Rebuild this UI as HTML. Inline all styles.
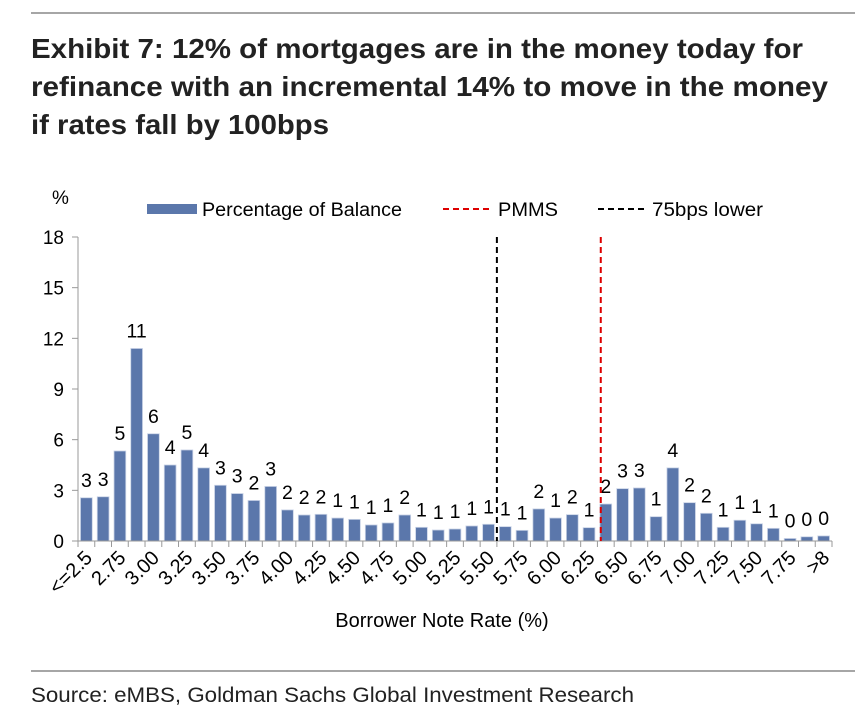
<!DOCTYPE html>
<html><head><meta charset="utf-8"><style>
body{margin:0;background:#fff;}
svg{display:block;font-family:"Liberation Sans",Arial,sans-serif;}
</style></head><body>
<svg id="chart" width="868" height="726">
<line x1="31" y1="13" x2="855" y2="13" stroke="#888" stroke-width="1.5"/>
<g font-weight="bold" font-size="28" fill="#222">
<text x="31" y="58" textLength="772" lengthAdjust="spacingAndGlyphs">Exhibit 7: 12% of mortgages are in the money today for</text>
<text x="31" y="96" textLength="797" lengthAdjust="spacingAndGlyphs">refinance with an incremental 14% to move in the money</text>
<text x="31" y="134" textLength="298" lengthAdjust="spacingAndGlyphs">if rates fall by 100bps</text>
</g>
<text x="52" y="204" font-size="19">%</text>
<g font-size="19">
<g><rect x="147" y="204" width="50" height="10" fill="#5b77ab"/><text x="202" y="216" textLength="200" lengthAdjust="spacingAndGlyphs">Percentage of Balance</text></g>
<g><line x1="443" y1="209" x2="493" y2="209" stroke="#d00" stroke-width="2" stroke-dasharray="6,4"/><text x="498" y="216" textLength="60" lengthAdjust="spacingAndGlyphs">PMMS</text></g>
<g><line x1="598" y1="209" x2="646" y2="209" stroke="#000" stroke-width="2" stroke-dasharray="6,4"/><text x="652" y="216" textLength="111" lengthAdjust="spacingAndGlyphs">75bps lower</text></g>
</g>
<g id="plot"></g>
<text x="442" y="627" font-size="20" text-anchor="middle">Borrower Note Rate (%)</text>
<line x1="31" y1="671" x2="855" y2="671" stroke="#888" stroke-width="1.5"/>
<text x="31" y="702" font-size="21" fill="#222" textLength="603" lengthAdjust="spacingAndGlyphs">Source: eMBS, Goldman Sachs Global Investment Research</text>
</svg>
<script>
const values=[2.56,2.62,5.33,11.4,6.35,4.5,5.39,4.33,3.3,2.81,2.4,3.23,1.84,1.54,1.58,1.36,1.28,0.95,1.07,1.54,0.81,0.65,0.71,0.89,0.99,0.85,0.63,1.9,1.36,1.56,0.79,2.19,3.1,3.14,1.44,4.33,2.27,1.64,0.81,1.23,1.02,0.75,0.15,0.25,0.3];
const printed=[3,3,5,11,6,4,5,4,3,3,2,3,2,2,2,1,1,1,1,2,1,1,1,1,1,1,1,2,1,2,1,2,3,3,1,4,2,2,1,1,1,1,0,0,0];
const xLabels=["<=2.5","2.75","3.00","3.25","3.50","3.75","4.00","4.25","4.50","4.75","5.00","5.25","5.50","5.75","6.00","6.25","6.50","6.75","7.00","7.25","7.50","7.75",">8"];
const yTicks=[0,3,6,9,12,15,18];
const pmmsPos=31.2;
const lowerPos=25;
const NS="http://www.w3.org/2000/svg";
const X0=78,X1=832,Y0=541,YT=237,N=values.length,bw=(X1-X0)/N;
const xs=i=>X0+bw*i;
const ys=v=>Y0-(Y0-YT)*v/18;
const g=document.getElementById('plot');
function mk(t,a,txt){const e=document.createElementNS(NS,t);for(const k in a)e.setAttribute(k,a[k]);if(txt!==undefined)e.textContent=txt;g.appendChild(e);return e;}
let e=mk('line',{x1:X0,y1:YT,x2:X0,y2:Y0,stroke:'#999'});


yTicks.forEach(t=>{
 let l=mk('line',{x1:X0-6,y1:ys(t),x2:X0,y2:ys(t),stroke:'#999'});
 
 
 let tx=mk('text',{x:X0-14,y:ys(t)+7,'font-size':19,'text-anchor':'end'},t);
 
 
});
values.forEach((v,i)=>{
 let r=mk('rect',{x:xs(i)+2.5,y:ys(v),width:bw-5,height:Y0-ys(v),fill:'#5b77ab',stroke:'#c9d3e6','stroke-width':0.8});
 
 
 let t=mk('text',{x:xs(i)+bw/2,y:ys(v)-11,'font-size':19.5,'text-anchor':'middle'},printed[i]);
 
 
});
e=mk('line',{x1:X0,y1:Y0,x2:X1,y2:Y0,stroke:'#999'});


for(let i=0;i<=N;i++){
 let l=mk('line',{x1:xs(i),y1:Y0,x2:xs(i),y2:Y0+6,stroke:'#999'});
 
 
}
xLabels.forEach((s,k)=>{
 const cx=xs(2*k)+bw/2+7, cy=Y0+18;
 let t=mk('text',{x:cx,y:cy,'font-size':20,'text-anchor':'end',transform:`rotate(-45 ${cx} ${cy})`},s);
 
 
});
let pl=mk('line',{x1:xs(pmmsPos),y1:YT,x2:xs(pmmsPos),y2:Y0,stroke:'#d00','stroke-width':2,'stroke-dasharray':'6,4'});


let bl=mk('line',{x1:xs(lowerPos),y1:YT,x2:xs(lowerPos),y2:Y0,stroke:'#000','stroke-width':2,'stroke-dasharray':'6,4'});


</script>
</body></html>
